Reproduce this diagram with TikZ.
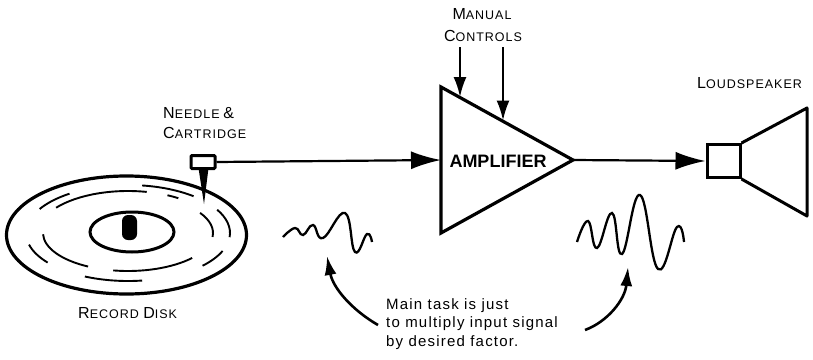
\documentclass[tikz,border=0pt]{standalone}
\usepackage{fontspec}
\setmainfont{Liberation Sans}
\newfontfamily\lbl[LetterSpace=8]{Liberation Sans}
\usetikzlibrary{arrows.meta}
\newcommand\capsml[2]{{\fontsize{16}{18}\selectfont #1}{\fontsize{12.5}{15}\selectfont #2}}
\begin{document}
\begin{tikzpicture}[x=1pt,y=-1pt]

\tikzstyle{label} = [inner sep=0, anchor=base west, font=\lbl];
\tikzstyle{sig} = [line width=2.2pt, -{Latex[length=30pt,width=18pt]}];
\tikzstyle{ctl} = [line width=2.2pt, -{Latex[length=20pt,width=13pt]}];
\tikzstyle{curv} = [line width=2.6pt, -{Latex[length=19pt,width=12pt]}];
\tikzstyle{groove} = [line width=1.9pt];
\tikzstyle{wave} = [line width=2.3pt, smooth, tension=0.75];
\useasboundingbox (0,0) rectangle (813,359);

% record
\draw[line width=3.2pt] (126.5,235) ellipse [x radius=120, y radius=59];
\draw[line width=3pt] (132,232) ellipse [x radius=42, y radius=20];
\fill[rounded corners=6pt] (122,240) -- (122,215) -- (137,215) -- (137,240) -- cycle;
\foreach \rx/\ry/\a/\b in {85/38/-32/6, 85/38/118/178, 85/38/41/100,
    90/42/-143/-78, 90/42/-64/-56,
    102/48/-150/-125, 102/48/-82/-50, 102/48/-29/5,
    102/48/142/166, 102/48/82/115, 102/48/22/43}
  \draw[groove] (128,233) ++(\a:{\rx} and {\ry})
    arc[start angle=\a, end angle=\b, x radius=\rx, y radius=\ry];
\node[label] (disk) at (78,318) {\capsml{R}{ECORD }\capsml{D}{ISK}};

% pickup
\node[draw, line width=3pt, minimum width=24pt, minimum height=13pt,
  inner sep=0, rounded corners=1pt] (cart) at (203,162) {};
\fill (198.5,168) -- (208.5,168) -- (204,204) -- cycle;
\node[label] (nd1) at (163,118) {\capsml{N}{EEDLE} \capsml{\&}{}};
\node[label] (nd2) at (163,138) {\capsml{C}{ARTRIDGE}};

% amplifier
\coordinate (ampin) at (441,160);
\coordinate (ampout) at (573,160);
\draw[line width=3.2pt, line join=miter] (441,87) -- (ampout) -- (441,233) -- cycle;
\node[inner sep=0, anchor=base, font=\fontsize{18}{20}\selectfont\bfseries] (amp)
  at (498,167) {AMPLIFIER};
\node[label, anchor=base] (man1) at (482,19) {\capsml{M}{ANUAL}};
\node[label, anchor=base] (man2) at (483,41.5) {\capsml{C}{ONTROLS}};
\coordinate (k1) at (460,47);
\coordinate (k2) at (503,47);
\coordinate (e1) at (460,97);
\coordinate (e2) at (503,120.5);
\draw[ctl] (k1) -- (e1);
\draw[ctl] (k2) -- (e2);

% speaker
\node[draw, line width=3pt, minimum width=33pt, minimum height=33pt,
  inner sep=0] (spk) at (723.5,161) {};
\draw[line width=3pt, line join=round] (spk.north east) -- (807,108) -- (807,216)
  -- (spk.south east);
\node[label] (ls) at (697,88) {\capsml{L}{OUDSPEAKER}};

% signal path
\draw[sig] (cart.east) -- (ampin);
\draw[sig] (ampout) -- (spk.west);

% waveforms
\draw[wave] plot coordinates {(283,237) (295,228) (303,235) (313,225) (323,238)
  (345,213) (355,252) (367,234) (372,242)};
\draw[wave] plot coordinates {(577,242) (588,221) (597,248) (612,213) (622,254)
  (640,195) (658,269) (677,227) (684,242)};

% note
\node[inner sep=0, anchor=north west, align=left,
  font=\lbl\fontsize{15}{18.3}\selectfont] (note) at (386,298.5)
  {Main task is just\\to multiply input signal\\by desired factor.};
\coordinate (lt) at (378,325);
\coordinate (lh) at (327,256);
\coordinate (rt) at (585,330);
\coordinate (rh) at (628,267);
\draw[curv] (lt) .. controls (352,310) and (333,288) .. (lh);
\draw[curv] (rt) .. controls (607,322) and (625,300) .. (rh);

\end{tikzpicture}
\end{document}
